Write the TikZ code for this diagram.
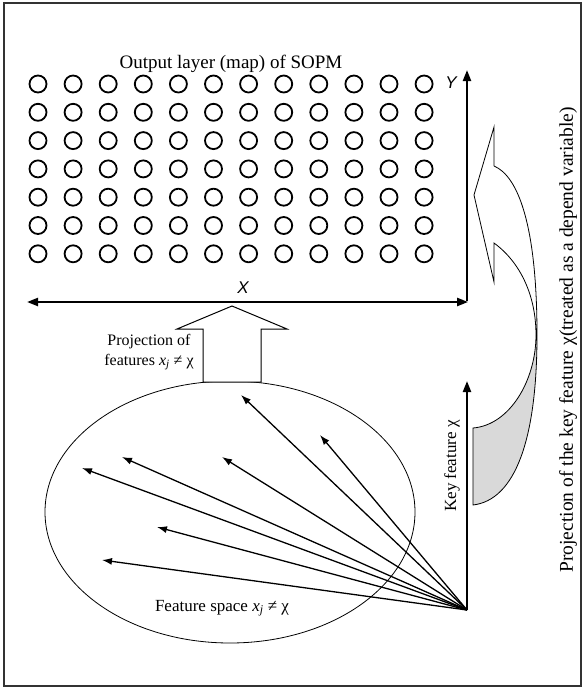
\documentclass[tikz,border=0pt]{standalone}
\usepackage{fontspec}
\setmainfont{Liberation Serif}
\newfontfamily\lsans{Liberation Sans}
\usetikzlibrary{arrows.meta}
\begin{document}
\begin{tikzpicture}[x=1pt,y=-1pt,
  neuron/.style={circle,draw,line width=1.8pt,minimum size=17pt,inner sep=0pt},
  axis/.style={line width=2.2pt,-{Triangle[length=11pt,width=8pt]}},
  fanarrow/.style={line width=1.3pt,-{Latex[length=10pt,width=7pt]}},
  thinline/.style={line width=0.8pt},
  lbl/.style={inner sep=0pt,font=\fontsize{17}{20}\selectfont},
  axlbl/.style={inner sep=0pt,font=\fontsize{17}{20}\selectfont\lsans\itshape}]
\useasboundingbox (0,0) rectangle (585,689);
\draw[line width=1.2pt,black!80] (4,3) rectangle (581,686);
% title
\node[lbl,font=\fontsize{19}{22}\selectfont] (title) at (231,64) {Output layer (map) of SOPM};
% grid of neurons
\foreach \i in {0,...,11}
  \foreach \j in {0,...,6}
    \node[neuron] (n\i-\j) at ({38+35.1*\i},{84+28.3*\j}) {};
% map axes
\coordinate (corner) at (467,302);
\coordinate (xleft) at (27,302);
\coordinate (ytop) at (467,70);
\draw[line width=2.2pt,{Triangle[length=11pt,width=8pt]}-{Triangle[length=11pt,width=8pt]}] (xleft) -- ([xshift=1.1pt]corner);
\draw[axis] ([yshift=1.1pt]corner) -- (ytop);
\node[axlbl] (xl) at (243,288) {X};
\node[axlbl] (yl) at (451,83) {Y};
% feature space ellipse
\draw[thinline] (230,512) ellipse [x radius=185, y radius=131];
\node[lbl] (fs) at (222,608) {Feature space \textit{x}\textsubscript{\textit{j}} ≠ χ};
% projection hollow arrow
\draw[line width=1pt,fill=white] (203,382) -- (203,329) -- (177,329) -- (232,306) -- (287,329) -- (261,329) -- (261,382) -- cycle;
\node[lbl,font=\fontsize{16}{20}\selectfont,align=center] (proj) at (149,352)
  {Projection of\\features \textit{x}\textsubscript{\textit{j}} ≠ χ};
% fan of feature vectors
\coordinate (o) at (467,610);
\coordinate (t1) at (241,395);
\coordinate (t2) at (320,435);
\coordinate (t3) at (222,457);
\coordinate (t4) at (122,457);
\coordinate (t5) at (82,468);
\coordinate (t6) at (157,527);
\coordinate (t7) at (102,560);
\foreach \t in {t1,t2,t3,t4,t5,t6,t7}
  \draw[fanarrow] (o) -- (\t);
% key feature axis
\coordinate (ktop) at (467,381);
\draw[axis] (o) -- (ktop);
\node[lbl,rotate=90] (kf) at (452,466) {Key feature χ};
% curved projection arrow
\fill[black!15] (536,335) .. controls (536,380) and (510,425) .. (473,428)
  -- (473,505) .. controls (515,500) and (537,440) .. (537,335) -- cycle;
\draw[thinline,line join=miter]
  (494,166) -- (494,127) -- (474,195) -- (494,282) -- (494,243)
  .. controls (520,262) and (536,295) .. (536,335)
  .. controls (536,380) and (510,425) .. (473,428)
  -- (473,505)
  .. controls (515,500) and (537,440) .. (537,335)
  .. controls (537,225) and (518,176) .. (494,166);
\node[lbl,rotate=90,font=\fontsize{19.5}{22}\selectfont] (pk) at (568,340)
  {Projection of the key feature χ(treated as a depend variable)};
\end{tikzpicture}
\end{document}
